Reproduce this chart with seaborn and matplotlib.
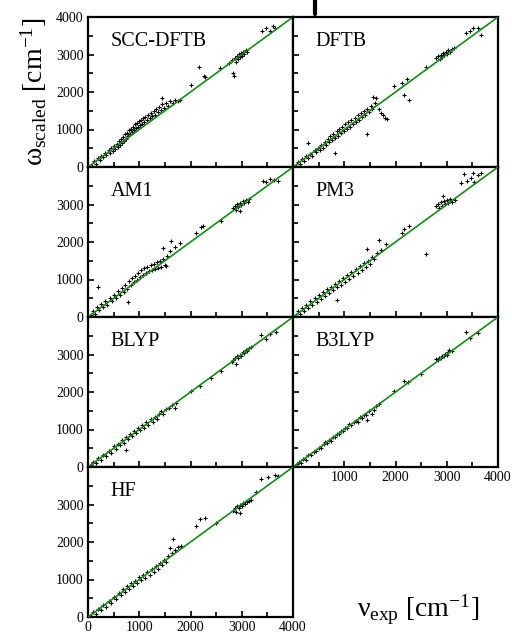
import numpy as np
import pandas as pd
import matplotlib
matplotlib.use("Agg")
import matplotlib.pyplot as plt
from matplotlib.lines import Line2D
from matplotlib.ticker import MultipleLocator
import seaborn as sns

sns.set_style("ticks", {"axes.edgecolor": "black", "xtick.color": "black", "ytick.color": "black",
                        "text.color": "black", "axes.labelcolor": "black"})
plt.rcParams["font.family"] = ["Liberation Serif", "DejaVu Serif"]
plt.rcParams["mathtext.fontset"] = "custom"
plt.rcParams["mathtext.rm"] = "Liberation Serif"
plt.rcParams["mathtext.it"] = "Liberation Serif"

methods = ["SCC-DFTB", "DFTB", "AM1", "PM3", "BLYP", "B3LYP", "HF"]

scc_pts = [(80,40),(120,150),(150,90),(200,230),(230,180),(260,300),(300,260),(330,380),(360,330),
           (400,450),(420,380),(450,520),(480,430),(500,560),(530,470),(560,620),(580,540),(600,700),
           (620,590),(650,740),(660,650),(690,800),(700,690),(720,880),(740,760),(760,900),(780,820),
           (800,980),(820,870),(840,1020),(860,930),(880,1080),(900,980),(920,1150),(940,1030),
           (960,1180),(980,1060),(1000,1230),(1020,1110),(1040,1260),(1060,1150),(1080,1310),
           (1100,1200),(1120,1340),(1150,1250),(1170,1400),(1200,1300),(1230,1450),(1250,1350),
           (1280,1500),(1300,1400),(1330,1560),(1360,1460),(1380,1600),(1420,1520),(1450,1680),
           (1480,1580),(1520,1720),(1560,1640),(1600,1760),(1650,1700),(1700,1800),(1750,1760),
           (1800,1790),(1450,1830),(2000,2190),(2170,2660),(2260,2430),(2290,2410),(2570,2630),
           (2760,2770),(2800,2850),(2830,2500),(2850,2420),(2860,2900),(2880,2800),(2900,2960),
           (2920,2870),(2940,3020),(2960,2930),(2980,3050),(3000,2960),(3020,3080),(3050,3010),
           (3080,3120),(3100,3060),(3400,3620),(3480,3700),(3550,3640),(3600,3750),(3650,3700)]
dftb_pts = [(60,40),(100,130),(140,80),(180,220),(220,160),(260,300),(300,650),(300,240),(340,360),
            (380,300),(420,460),(450,390),(480,520),(520,450),(550,600),(580,520),(620,680),(650,590),
            (680,760),(700,660),(730,820),(760,720),(790,880),(825,380),(820,780),(850,950),(880,840),
            (900,1010),(930,900),(960,1080),(990,960),(1020,1140),(1050,1020),(1080,1200),(1110,1080),
            (1140,1260),(1170,1140),(1200,1320),(1230,1200),(1260,1380),(1290,1260),(1320,1440),
            (1350,1330),(1380,1500),(1410,1400),(1447,874),(1450,1560),(1480,1460),(1520,1640),
            (1560,1870),(1610,1850),(1550,1550),(1600,1700),(1680,1550),(1720,1450),(1760,1400),
            (1800,1300),(1840,1280),(1970,2150),(2130,2230),(2170,1930),(2230,2350),(2265,1790),
            (2590,2675),(2790,2900),(2830,2960),(2860,2880),(2880,3000),(2900,2940),(2930,3050),
            (2950,2980),(2980,3080),(3000,3020),(3030,3110),(3060,3060),(3100,3150),(3150,3170),
            (3380,3580),(3450,3640),(3520,3700),(3600,3710),(3670,3530)]
am1_pts = [(60,50),(100,160),(140,90),(180,260),(195,810),(220,190),(260,350),(300,260),(340,440),
           (380,330),(420,520),(460,430),(500,600),(540,500),(580,700),(620,590),(660,780),(700,680),
           (730,860),(760,760),(780,405),(800,950),(830,850),(860,1030),(890,930),(920,1100),(950,1000),
           (980,1180),(1010,1070),(1040,1250),(1070,1130),(1100,1300),(1130,1180),(1160,1340),
           (1190,1220),(1220,1380),(1250,1250),(1280,1420),(1310,1280),(1340,1460),(1370,1300),
           (1400,1500),(1430,1330),(1463,1847),(1460,1560),(1500,1380),(1530,1350),(1540,1640),
           (1600,1760),(1626,2027),(1700,1880),(1790,1980),(2114,2250),(2200,2390),(2244,2432),
           (2600,2560),(2830,2900),(2860,2960),(2880,2860),(2900,3010),(2930,2940),(2960,2820),
           (2960,3050),(2990,2980),(3020,3090),(3050,3030),(3080,3120),(3120,3080),(3150,3150),
           (3420,3640),(3480,3600),(3550,3690),(3620,3660),(3700,3620)]
pm3_pts = [(60,40),(100,150),(140,80),(180,250),(220,170),(260,330),(300,250),(340,420),(380,320),
           (420,500),(460,410),(500,580),(540,480),(580,660),(620,560),(660,740),(700,640),(740,810),
           (780,720),(820,880),(858,450),(860,790),(900,960),(940,860),(980,1040),(1020,940),
           (1060,1120),(1100,1020),(1140,1200),(1180,1100),(1220,1280),(1260,1180),(1300,1360),
           (1340,1260),(1380,1440),(1420,1330),(1447,1820),(1460,1500),(1500,1420),(1540,1600),
           (1580,1560),(1630,1700),(1676,2045),(1720,1800),(1807,1937),(2167,2340),(2120,2250),
           (2265,2430),(2592,1675),(2790,2950),(2820,3020),(2850,2900),(2880,3060),(2900,2960),
           (2920,3240),(2940,3100),(2970,3010),(3000,3120),(3030,3050),(3070,3140),(3100,3080),
           (3160,3130),(3280,3570),(3345,3810),(3400,3640),(3480,3700),(3510,3840),(3540,3600),
           (3600,3790),(3670,3840)]
blyp_pts = [(60,50),(100,140),(150,100),(200,230),(250,200),(300,330),(350,290),(400,420),(450,380),
            (500,550),(540,480),(580,620),(620,580),(660,720),(700,650),(750,450),(740,800),(780,740),
            (820,880),(860,820),(900,960),(940,900),(980,1050),(1020,980),(1060,1110),(1100,1050),
            (1140,1190),(1180,1120),(1220,1270),(1260,1200),(1300,1340),(1340,1280),(1380,1410),
            (1430,1486),(1460,1420),(1520,1560),(1580,1580),(1640,1660),(1690,1577),(1720,1720),
            (2016,2027),(2180,2160),(2400,2380),(2600,2570),(2800,2800),(2830,2860),(2860,2900),
            (2894,2750),(2900,2950),(2930,2900),(2960,3000),(2990,2960),(3020,3060),(3050,3040),
            (3080,3120),(3110,3100),(3150,3180),(3190,3200),(3380,3530),(3480,3420),(3560,3550),
            (3675,3600)]
b3lyp_pts = [(80,70),(120,140),(160,110),(200,220),(250,200),(300,310),(350,320),(400,400),(450,440),
             (500,520),(550,520),(600,620),(628,675),(660,640),(700,730),(740,700),(780,800),(820,790),
             (860,890),(900,880),(940,970),(980,960),(1020,1050),(1060,1040),(1100,1140),(1140,1110),
             (1185,1190),(1220,1230),(1260,1200),(1300,1330),(1340,1300),(1380,1400),(1420,1380),
             (1447,1261),(1480,1490),(1545,1414),(1578,1530),(1620,1640),(1680,1670),(1970,2027),
             (2167,2300),(2250,2260),(2500,2480),(2790,2880),(2820,2850),(2850,2920),(2880,2900),
             (2910,2960),(2940,2950),(2970,3010),(3000,3000),(3030,3060),(3050,3110),(3100,3100),
             (3378,3600),(3450,3440),(3600,3580)]
hf_pts = [(60,40),(100,130),(150,90),(200,220),(250,190),(300,320),(350,280),(400,430),(450,380),
          (500,540),(550,490),(600,650),(640,580),(680,760),(720,680),(760,830),(800,740),(840,900),
          (880,820),(920,970),(960,900),(1000,1060),(1040,980),(1080,1130),(1120,1050),(1160,1200),
          (1200,1120),(1240,1280),(1280,1200),(1320,1350),(1360,1280),(1400,1440),(1440,1380),
          (1480,1530),(1520,1480),(1560,1620),(1600,1850),(1640,1700),(1660,2070),(1700,1800),
          (1760,1860),(1820,1900),(2114,2430),(2180,2610),(2276,2650),(2500,2500),(2830,2840),
          (2860,2900),(2880,2810),(2910,2950),(2940,2900),(2960,2780),(2970,3000),(3000,2960),
          (3030,3050),(3060,3020),(3100,3080),(3150,3100),(3190,3120),(3285,3330),(3380,3690),
          (3510,3740),(3640,3780),(3700,3760)]

all_pts = [scc_pts, dftb_pts, am1_pts, pm3_pts, blyp_pts, b3lyp_pts, hf_pts]
frames = []
for m, pts in zip(methods, all_pts):
    d = pd.DataFrame(pts, columns=["exp", "calc"])
    d["method"] = m
    frames.append(d)
df = pd.concat(frames, ignore_index=True)

diag = pd.DataFrame({"exp": [0, 4000], "calc": [0, 4000]})

fig, axes = plt.subplots(4, 2, figsize=(5.12, 6.34), dpi=100)
fig.subplots_adjust(left=88/512, right=498/512, top=1-17/634, bottom=1-617/634, wspace=0, hspace=0)
axes[3, 1].remove()

for i, m in enumerate(methods):
    r, c = divmod(i, 2)
    ax = axes[r, c]
    sub = df[df["method"] == m]
    sns.scatterplot(data=sub, x="exp", y="calc", marker="+", color="black", s=12,
                    linewidth=0.8, ax=ax, legend=False, zorder=2)
    sns.lineplot(data=diag, x="exp", y="calc", color="#168a16", linewidth=1.2, ax=ax, zorder=3)
    ax.set_xlim(0, 4000)
    ax.set_ylim(0, 4000)
    ax.set_xlabel("")
    ax.set_ylabel("")
    ax.xaxis.set_major_locator(MultipleLocator(1000))
    ax.xaxis.set_minor_locator(MultipleLocator(500))
    ax.yaxis.set_major_locator(MultipleLocator(1000))
    ax.yaxis.set_minor_locator(MultipleLocator(500))
    ax.tick_params(which="both", direction="in", top=False, right=False, width=1.2,
                   labelsize=10, pad=3, colors="black")
    ax.tick_params(which="major", length=4.5)
    ax.tick_params(which="minor", length=3.5)
    for s in ax.spines.values():
        s.set_linewidth(1.6)
        s.set_color("black")
        s.set_visible(True)
    ax.text(0.11, 0.835, m, transform=ax.transAxes, fontsize=14.5, va="center", ha="left")

    # tick labels
    if c == 0:
        ylabels = ["0", "1000", "2000", "3000", "4000" if r == 0 else ""]
        ax.set_yticks([0, 1000, 2000, 3000, 4000])
        ax.set_yticklabels(ylabels)
    else:
        ax.tick_params(labelleft=False)
    if m == "HF":
        ax.set_xticks([0, 1000, 2000, 3000, 4000])
        ax.set_xticklabels(["0", "1000", "2000", "3000", "4000"])
    elif m == "B3LYP":
        ax.set_xticks([0, 1000, 2000, 3000, 4000])
        ax.set_xticklabels(["", "1000", "2000", "3000", "4000"])
    else:
        ax.tick_params(labelbottom=False)

fig.text(0.065, 1 - 92/634, r"$\omega_{\rm scaled}\ [\rm cm^{-1}]$", rotation=90,
         fontsize=20, ha="center", va="center")
fig.text(418/512, 1 - 610/634, r"$\nu_{\rm exp}\ [\rm cm^{-1}]$",
         fontsize=20, ha="center", va="center")
fig.add_artist(Line2D([315/512, 315/512], [1.0, 1 - 14/634], color="black", linewidth=3))

fig.savefig("out.png", dpi=100)
